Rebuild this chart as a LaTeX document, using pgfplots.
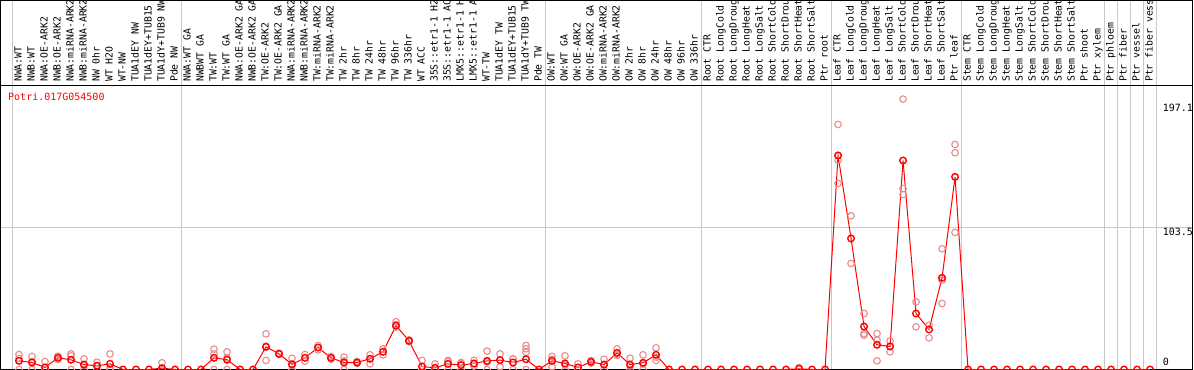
\documentclass[border=0pt]{standalone}
\usepackage{pgfplots}
\pgfplotsset{compat=1.18}
\usepackage{fontspec}
\setmonofont{DejaVu Sans Mono}
\definecolor{mainred}{RGB}{255,0,0}
\definecolor{repred}{RGB}{232,140,140}
\definecolor{gridgray}{RGB}{200,200,200}
\begin{document}
\begin{tikzpicture}
\useasboundingbox (0,0) rectangle (1194bp,370bp);
\clip (0,0) rectangle (1194bp,370bp);
\begin{axis}[
 at={(0.5bp,0.5bp)}, anchor=south west,
 scale only axis, width=1192bp, height=369bp,
 xmin=-1.423, xmax=90.269, ymin=0, ymax=268.95,
 axis line style={black, line width=1bp},
 xtick={-0.5,12.5,40.5,52.5,62.5,72.5,83.5,84.5,85.5,86.5,87.5},
 xticklabels={}, ytick={103.5}, yticklabels={},
 extra y ticks={207}, extra y tick labels={},
 extra y tick style={grid=major, major grid style={black, line width=1bp}},
 major tick length=0pt,
 xmajorgrids, ymajorgrids,
 major grid style={gridgray, line width=1bp},
 font=\ttfamily\fontsize{10bp}{12bp}\selectfont,
]
% category labels (as far as they are visible)
\addplot[draw=none, mark=none, point meta=explicit symbolic, nodes near coords,
  every node near coord/.append style={rotate=90, anchor=west, inner sep=0pt,
  text height=7bp, text depth=2bp, text=black, font=\ttfamily\fontsize{9.8bp}{12bp}\selectfont}]
coordinates {
(0,209.5) [NWA:WT] (1,209.5) [NWB:WT] (2,209.5) [NWA:OE-ARK2] (3,209.5) [NWB:OE-ARK2]
(4,209.5) [NWA:miRNA-ARK2] (5,209.5) [NWB:miRNA-ARK2] (6,209.5) [NW 0hr] (7,209.5) [WT H2O]
(8,209.5) [WT-NW] (9,209.5) [TUA1dEY NW] (10,209.5) [TUA1dEY+TUB15] (11,209.5) [TUA1dY+TUB9 NW]
(12,209.5) [Pde NW]
(13,209.5) [NWA:WT GA] (14,209.5) [NWBWT GA] (15,209.5) [TW:WT] (16,209.5) [TW:WT GA]
(17,209.5) [NWA:OE-ARK2 GA] (18,209.5) [NWB:OE-ARK2 GA] (19,209.5) [TW:OE-ARK2] (20,209.5) [TW:OE-ARK2 GA]
(21,209.5) [NWA:miRNA-ARK2] (22,209.5) [NWB:miRNA-ARK2] (23,209.5) [TW:miRNA-ARK2] (24,209.5) [TW:miRNA-ARK2]
(25,209.5) [TW 2hr] (26,209.5) [TW 8hr] (27,209.5) [TW 24hr] (28,209.5) [TW 48hr]
(29,209.5) [TW 96hr] (30,209.5) [TW 336hr] (31,209.5) [WT ACC] (32,209.5) [35S::etr1-1 H2]
(33,209.5) [35S::etr1-1 AC] (34,209.5) [LMX5::etr1-1 H] (35,209.5) [LMX5::etr1-1 A] (36,209.5) [WT-TW]
(37,209.5) [TUA1dEY TW] (38,209.5) [TUA1dEY+TUB15] (39,209.5) [TUA1dY+TUB9 TW] (40,209.5) [Pde TW]
(41,209.5) [OW:WT] (42,209.5) [OW:WT GA] (43,209.5) [OW:OE-ARK2] (44,209.5) [OW:OE-ARK2 GA]
(45,209.5) [OW:miRNA-ARK2] (46,209.5) [OW:miRNA-ARK2] (47,209.5) [OW 2hr] (48,209.5) [OW 8hr]
(49,209.5) [OW 24hr] (50,209.5) [OW 48hr] (51,209.5) [OW 96hr] (52,209.5) [OW 336hr]
(53,209.5) [Root CTR] (54,209.5) [Root LongCold] (55,209.5) [Root LongDroug] (56,209.5) [Root LongHeat]
(57,209.5) [Root LongSalt] (58,209.5) [Root ShortCold] (59,209.5) [Root ShortDrou] (60,209.5) [Root ShortHeat]
(61,209.5) [Root ShortSalt] (62,209.5) [Ptr root]
(63,209.5) [Leaf CTR] (64,209.5) [Leaf LongCold] (65,209.5) [Leaf LongDroug] (66,209.5) [Leaf LongHeat]
(67,209.5) [Leaf LongSalt] (68,209.5) [Leaf ShortCold] (69,209.5) [Leaf ShortDrou] (70,209.5) [Leaf ShortHeat]
(71,209.5) [Leaf ShortSalt] (72,209.5) [Ptr leaf]
(73,209.5) [Stem CTR] (74,209.5) [Stem LongCold] (75,209.5) [Stem LongDroug] (76,209.5) [Stem LongHeat]
(77,209.5) [Stem LongSalt] (78,209.5) [Stem ShortCold] (79,209.5) [Stem ShortDrou] (80,209.5) [Stem ShortHeat]
(81,209.5) [Stem ShortSalt] (82,209.5) [Ptr shoot]
(83,209.5) [Ptr xylem] (84,209.5) [Ptr phloem] (85,209.5) [Ptr fiber] (86,209.5) [Ptr vessel]
(87,209.5) [Ptr fiber vess]
};
% replicates
\addplot[only marks, mark=o, mark size=3.3bp, repred, mark options={line width=1.1bp}]
coordinates {
(0,10.9)(0,8)(0,0)(1,9.5)(1,5.8)(1,0)(2,5.8)(2,0)(3,9.7)(3,7.3)
(4,11.4)(4,9.9)(4,0)(5,7.8)(5,3)(5,0)(6,5.3)(6,2.8)(6,0)(7,11.4)(7,1)(7,0)
(11,4.9)(11,0)(15,14.8)(15,11.4)(15,0)(16,12.9)(16,8.4)(16,0)
(19,26)(19,6.6)(19,17)(20,11.9)(20,11.4)(20,11)(21,8.2)(21,3)(21,0)
(22,10.9)(22,6.1)(23,17.5)(23,14.3)(24,9.5)(24,7.5)(25,9)(25,6.3)(25,0)
(26,5.8)(26,4.4)(27,10.7)(27,4.1)(28,15)(28,10.7)(29,34.8)(29,32.8)(29,30.8)
(30,21.6)(30,20.2)(31,6.6)(31,0)(32,4.1)(32,0)(33,6.6)(33,5.7)(33,0)
(34,5.1)(34,4.5)(34,0)(35,6.6)(35,4)(35,2.5)(36,13.4)(36,5.5)(36,0)
(37,11.4)(37,7.1)(37,2)(38,7.8)(38,7.5)(38,0)(39,17.5)(39,15.1)(39,12.6)(39,0)
(41,9.5)(41,7.5)(41,2)(42,10)(42,3.2)(42,0)(43,4.1)(43,0)(44,6.5)(44,4.7)
(45,7.5)(45,3.3)(45,0)(46,15.1)(46,10.9)(46,10.3)(47,8.2)(47,2.6)(47,0)
(48,10.7)(48,4)(48,0)(49,15.8)(49,9)(49,6.6)(60,1.5)
(63,178.6)(63,152.6)(63,135.6)(64,112)(64,77.3)(65,40.8)(65,26.2)(65,25)
(66,26.2)(66,21.4)(66,6.3)(67,20.9)(67,12.9)(67,16.8)
(68,197.1)(68,131.9)(68,127.5)(69,49.3)(69,31.1)(70,32.3)(70,23.1)
(71,88)(71,65.1)(71,48.1)(72,164)(72,158)(72,99.9)
};
% mean
\addplot[mainred, line width=1bp, mark=o, mark size=3.3bp, mark options={line width=1.4bp}]
coordinates {
(0,6.3)(1,5.1)(2,1.5)(3,8.5)(4,7.1)(5,3.6)(6,2.7)(7,4.1)(8,0)(9,0)(10,0)(11,1)(12,0)
(13,0)(14,0)(15,8.5)(16,7.1)(17,0)(18,0)(19,16.5)(20,11.4)(21,3.8)(22,8.5)(23,16)(24,8.5)
(25,5.1)(26,5.1)(27,7.8)(28,12.9)(29,32)(30,20.9)(31,2.2)(32,1.2)(33,4.1)(34,3.2)(35,4.4)
(36,6.3)(37,6.8)(38,5.1)(39,7.5)(40,0)
(41,6.3)(42,4.4)(43,1.5)(44,5.6)(45,3.6)(46,12.1)(47,3.6)(48,4.9)(49,10.7)(50,0)(51,0)(52,0)
(53,0)(54,0)(55,0)(56,0)(57,0)(58,0)(59,0)(60,0.5)(61,0)(62,0)
(63,156)(64,95.5)(65,31.3)(66,18)(67,16.8)(68,152.3)(69,40.8)(70,29.2)(71,66.8)(72,140.4)
(73,0)(74,0)(75,0)(76,0)(77,0)(78,0)(79,0)(80,0)(81,0)(82,0)
(83,0)(84,0)(85,0)(86,0)(87,0)
};
\node[anchor=base west, inner sep=0pt, text=mainred] at (axis cs:-0.846,195.7) {Potri.017G054500};
\node[anchor=west, inner sep=0pt] at (axis cs:87.97,190.6) {197.1};
\node[anchor=west, inner sep=0pt] at (axis cs:87.97,100.2) {103.5};
\node[anchor=west, inner sep=0pt] at (axis cs:87.97,5.5) {0};
\end{axis}
\end{tikzpicture}
\end{document}
